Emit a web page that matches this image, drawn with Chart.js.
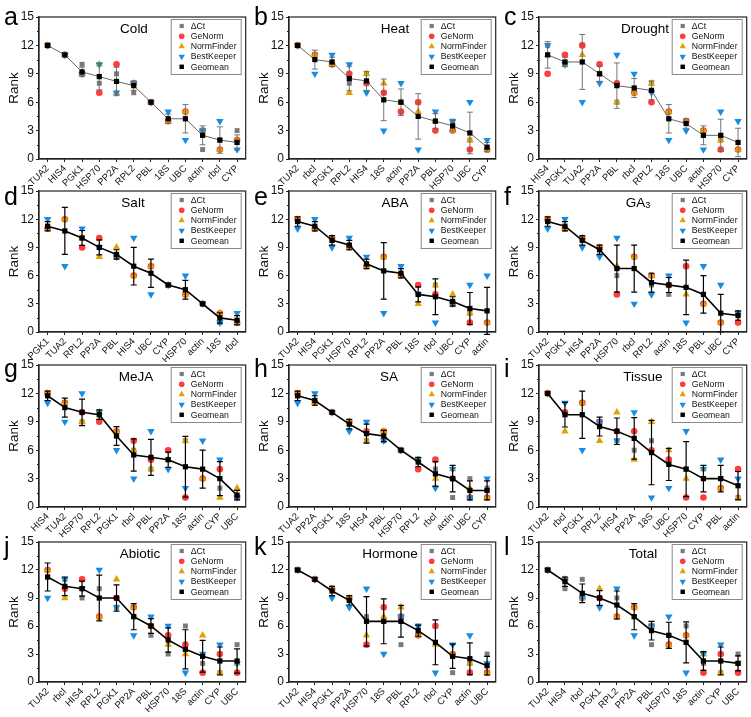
<!DOCTYPE html>
<html>
<head>
<meta charset="utf-8">
<script src="https://cdn.jsdelivr.net/npm/chart.js@4.4.1/dist/chart.umd.min.js"></script>
<style>
  body { margin: 0; background: #fff; width: 751px; height: 717px; position: relative; overflow: hidden; }
  canvas { position: absolute; }
</style>
</head>
<body>
<script>
// ranks, one block per panel
const coldGenes = ['TUA2', 'HIS4', 'PGK1', 'HSP70', 'PP2A', 'RPL2', 'PBL', '18S', 'UBC', 'actin', 'rbcl', 'CYP']
const coldDct = [12, 11, 10, 8, 9, 7, 6, 4, 5, 1, 2, 3]
const coldGeNorm = [12, 11, 9, 7, 10, 8, 6, 4, 5, 3, 1, 2]
const coldNormFinder = [12, 11, 9, 10, 7, 8, 6, 4, 5, 3, 1, 2]
const coldBestKeeper = [12, 11, 9, 10, 7, 8, 6, 5, 2, 3, 4, 1]
const coldGeomean = [12, 11, 9.2, 8.7, 8.2, 7.75, 6, 4.25, 4.25, 2.5, 2, 1.75]
const coldSd = [0, 0, 0.5, 1.4, 1.5, 0.5, 0, 0.5, 1.5, 1, 1.4, 0.8]

const heatGenes = ['TUA2', 'rbcl', 'PGK1', 'RPL2', 'HIS4', '18S', 'actin', 'PP2A', 'PBL', 'HSP70', 'UBC', 'CYP']
const heatDct = [12, 11, 10, 8, 9, 7, 6, 6, 4, 4, 2, 1]
const heatGeNorm = [12, 11, 10, 9, 8, 7, 5, 6, 3, 3, 1, 1]
const heatNormFinder = [12, 11, 10, 7, 9, 8, 6, 5, 4, 3, 2, 1]
const heatBestKeeper = [12, 9, 11, 10, 7, 3, 8, 1, 5, 4, 6, 2]
const heatGeomean = [12, 10.5, 10.25, 8.5, 8.25, 6.25, 6, 4.5, 4, 3.5, 2.75, 1.25]
const heatSd = [0, 1, 0.5, 1.3, 1, 2.2, 1.4, 2.4, 0.8, 0.55, 2.2, 0.5]

const droughtGenes = ['HIS4', 'PGK1', 'TUA2', 'PP2A', 'PBL', 'rbcl', 'RPL2', '18S', 'UBC', 'actin', 'HSP70', 'CYP']
const droughtDct = [12, 10, 12, 9, 6, 7, 8, 5, 4, 3, 2, 1]
const droughtGeNorm = [9, 11, 12, 10, 8, 7, 6, 5, 4, 3, 1, 1]
const droughtNormFinder = [11, 10, 11, 9, 6, 7, 8, 5, 4, 3, 2, 1]
const droughtBestKeeper = [12, 10, 6, 8, 11, 9, 7, 2, 3, 1, 5, 4]
const droughtGeomean = [11, 10.25, 10.25, 9, 7.75, 7.5, 7.25, 4.25, 3.75, 2.5, 2.5, 1.75]
const droughtSd = [1.4, 0.5, 2.9, 0.8, 2.4, 1, 1, 1.5, 0.5, 1, 1.7, 1.5]

const saltGenes = ['PGK1', 'TUA2', 'RPL2', 'PP2A', 'PBL', 'HIS4', 'UBC', 'CYP', 'HSP70', 'actin', '18S', 'rbcl']
const saltDct = [11, 12, 10, 9, 8, 6, 7, 5, 4, 3, 1, 1]
const saltGeNorm = [11, 12, 9, 10, 8, 6, 7, 5, 4, 3, 2, 1]
const saltNormFinder = [11, 12, 10, 8, 9, 6, 7, 5, 4, 3, 2, 1]
const saltBestKeeper = [12, 7, 11, 9, 8, 10, 4, 5, 6, 3, 1, 2]
const saltGeomean = [11.25, 10.75, 10, 9, 8.25, 7, 6.25, 5, 4.5, 3, 1.5, 1.25]
const saltSd = [0.5, 2.5, 0.8, 0.8, 0.5, 2, 1.5, 0, 1, 0, 0.55, 0.5]

const abaGenes = ['TUA2', 'HIS4', 'PGK1', 'HSP70', 'RPL2', 'PP2A', 'PBL', '18S', 'rbcl', 'UBC', 'CYP', 'actin']
const abaDct = [12, 11, 10, 9, 7, 8, 6, 4, 5, 3, 2, 1]
const abaGeNorm = [12, 11, 10, 9, 7, 8, 6, 5, 4, 3, 1, 1]
const abaNormFinder = [12, 11, 10, 9, 7, 8, 6, 3, 5, 4, 2, 1]
const abaBestKeeper = [11, 12, 9, 10, 8, 2, 7, 4, 1, 3, 5, 6]
const abaGeomean = [11.75, 11.25, 9.75, 9.25, 7.25, 6.5, 6.25, 4, 3.75, 3.25, 2.5, 2.25]
const abaSd = [0.5, 0.5, 0.5, 0.5, 0.5, 3, 0.5, 0.8, 1.9, 0.5, 1.7, 2.5]

const ga3Genes = ['TUA2', 'PGK1', 'HIS4', 'PP2A', 'HSP70', 'rbcl', 'RPL2', 'actin', '18S', 'PBL', 'UBC', 'CYP']
const ga3Dct = [12, 11, 10, 9, 6, 8, 5, 4, 7, 3, 1, 2]
const ga3GeNorm = [12, 11, 10, 9, 4, 8, 6, 5, 7, 3, 1, 1]
const ga3NormFinder = [12, 11, 10, 9, 7, 8, 6, 5, 4, 3, 1, 2]
const ga3BestKeeper = [11, 12, 9, 8, 10, 3, 4, 6, 1, 7, 5, 2]
const ga3Geomean = [11.75, 11.25, 9.75, 8.75, 6.75, 6.75, 5.25, 5, 4.75, 4, 2, 1.75]
const ga3Sd = [0.5, 0.5, 0.5, 0.5, 2.5, 2.5, 1, 0.8, 2.9, 2, 2, 0.5]

const mejaGenes = ['HIS4', 'TUA2', 'HSP70', 'RPL2', 'PGK1', 'rbcl', 'PBL', 'PP2A', '18S', 'actin', 'CYP', 'UBC']
const mejaDct = [12, 11, 9, 10, 8, 6, 4, 5, 7, 3, 2, 1]
const mejaGeNorm = [12, 11, 10, 9, 8, 7, 5, 6, 1, 3, 4, 1]
const mejaNormFinder = [12, 11, 9, 10, 8, 6, 4, 5, 7, 3, 1, 2]
const mejaBestKeeper = [11, 9, 12, 10, 6, 3, 8, 4, 2, 7, 5, 1]
const mejaGeomean = [11.75, 10.5, 10, 9.75, 7.5, 5.5, 5.25, 5, 4.25, 4, 3, 1.25]
const mejaSd = [0.5, 1, 1.4, 0.5, 1, 1.7, 1.9, 0.8, 3.2, 2, 1.8, 0.5]

const saGenes = ['TUA2', 'PP2A', 'PGK1', '18S', 'HIS4', 'PBL', 'HSP70', 'RPL2', 'rbcl', 'actin', 'UBC', 'CYP']
const saDct = [12, 11, 10, 9, 7, 7, 6, 5, 4, 1, 3, 2]
const saGeNorm = [12, 11, 10, 9, 8, 8, 6, 4, 5, 3, 1, 1]
const saNormFinder = [12, 11, 10, 9, 7, 8, 6, 5, 3, 4, 2, 1]
const saBestKeeper = [11, 12, 10, 8, 9, 7, 6, 5, 2, 4, 1, 3]
const saGeomean = [11.75, 11.25, 10, 8.75, 7.75, 7.5, 6, 4.75, 3.5, 3, 1.75, 1.75]
const saSd = [0.5, 0.5, 0, 0.5, 1, 0.6, 0, 0.5, 1.3, 1.4, 1, 1]

const tissueGenes = ['TUA2', 'rbcl', 'PGK1', 'RPL2', 'HIS4', 'PP2A', '18S', 'UBC', 'HSP70', 'CYP', 'PBL', 'actin']
const tissueDct = [12, 10, 11, 9, 7, 6, 7, 5, 4, 3, 3, 1]
const tissueGeNorm = [12, 10, 11, 9, 8, 8, 6, 5, 1, 1, 2, 4]
const tissueNormFinder = [12, 8, 11, 7, 10, 5, 9, 6, 3, 4, 2, 1]
const tissueBestKeeper = [12, 11, 6, 9, 7, 10, 1, 2, 8, 4, 5, 3]
const tissueGeomean = [12, 9.75, 9.75, 8.5, 8, 7.25, 5.75, 4.5, 4, 3, 3, 2.25]
const tissueSd = [0, 1.3, 2.5, 1, 1.4, 2.2, 3.4, 1.7, 2.9, 1.4, 1.4, 1.5]

const abioticGenes = ['TUA2', 'rbcl', 'HIS4', 'RPL2', 'PGK1', 'PP2A', 'PBL', 'HSP70', '18S', 'actin', 'CYP', 'UBC']
const abioticDct = [12, 11, 9, 10, 8, 7, 5, 3, 6, 2, 1, 4]
const abioticGeNorm = [12, 10, 11, 7, 9, 8, 6, 5, 4, 1, 3, 1]
const abioticNormFinder = [12, 9, 10, 7, 11, 8, 6, 4, 3, 5, 1, 2]
const abioticBestKeeper = [9, 11, 10, 12, 8, 5, 7, 6, 1, 3, 4, 2]
const abioticGeomean = [11.25, 10.25, 10, 9, 9, 7, 6, 4.5, 3.5, 2.75, 2.25, 2.25]
const abioticSd = [1.5, 1, 0.8, 2.45, 1.4, 1.4, 0.8, 1.3, 2.1, 1.7, 1.5, 1.3]

const hormoneGenes = ['TUA2', 'HIS4', 'PGK1', 'PP2A', 'HSP70', '18S', 'PBL', 'RPL2', 'rbcl', 'CYP', 'actin', 'UBC']
const hormoneDct = [12, 11, 10, 9, 7, 8, 4, 6, 6, 1, 2, 3]
const hormoneGeNorm = [12, 11, 10, 9, 4, 8, 7, 5, 6, 3, 1, 1]
const hormoneNormFinder = [12, 11, 10, 9, 5, 7, 8, 5, 4, 3, 2, 1]
const hormoneBestKeeper = [12, 11, 9, 8, 10, 3, 7, 6, 1, 4, 5, 2]
const hormoneGeomean = [12, 11, 9.75, 8.75, 6.5, 6.5, 6.5, 5.5, 4.25, 2.75, 2.5, 1.75]
const hormoneSd = [0, 0, 0.5, 0.5, 2.65, 2.4, 1.7, 0.6, 2.4, 1.3, 1.7, 1]

const totalGenes = ['TUA2', 'HIS4', 'rbcl', 'PGK1', 'RPL2', 'PP2A', 'PBL', 'HSP70', '18S', 'actin', 'CYP', 'UBC']
const totalDct = [12, 10, 11, 9, 9, 7, 4, 5, 6, 2, 1, 3]
const totalGeNorm = [12, 11, 9, 9, 7, 8, 6, 4, 5, 1, 3, 1]
const totalNormFinder = [12, 11, 9, 10, 7, 8, 6, 4, 5, 3, 1, 2]
const totalBestKeeper = [12, 11, 9, 8, 10, 5, 6, 7, 1, 3, 4, 2]
const totalGeomean = [12, 10.75, 9.5, 9, 8.25, 7, 5.5, 5, 4.25, 2.25, 2.25, 2]
const totalSd = [0, 0.5, 1, 0.8, 1.5, 1.4, 1, 1.4, 2.2, 1, 1.5, 0.8]

const rankTicks = [0, 3, 6, 9, 12, 15]
const methodNames = ['ΔCt', 'GeNorm', 'NormFinder', 'BestKeeper', 'Geomean']

const panels = [
  {letter: 'a', title: 'Cold', genes: coldGenes, series: [coldDct, coldGeNorm, coldNormFinder, coldBestKeeper], geo: coldGeomean, sd: coldSd, titleX: 134, light: true},
  {letter: 'b', title: 'Heat', genes: heatGenes, series: [heatDct, heatGeNorm, heatNormFinder, heatBestKeeper], geo: heatGeomean, sd: heatSd, titleX: 145, light: true},
  {letter: 'c', title: 'Drought', genes: droughtGenes, series: [droughtDct, droughtGeNorm, droughtNormFinder, droughtBestKeeper], geo: droughtGeomean, sd: droughtSd, titleX: 145, light: true},
  {letter: 'd', title: 'Salt', genes: saltGenes, series: [saltDct, saltGeNorm, saltNormFinder, saltBestKeeper], geo: saltGeomean, sd: saltSd, titleX: 133},
  {letter: 'e', title: 'ABA', genes: abaGenes, series: [abaDct, abaGeNorm, abaNormFinder, abaBestKeeper], geo: abaGeomean, sd: abaSd, titleX: 145},
  {letter: 'f', title: 'GA', sub: '3', genes: ga3Genes, series: [ga3Dct, ga3GeNorm, ga3NormFinder, ga3BestKeeper], geo: ga3Geomean, sd: ga3Sd, titleX: 138},
  {letter: 'g', title: 'MeJA', genes: mejaGenes, series: [mejaDct, mejaGeNorm, mejaNormFinder, mejaBestKeeper], geo: mejaGeomean, sd: mejaSd, titleX: 136},
  {letter: 'h', title: 'SA', genes: saGenes, series: [saDct, saGeNorm, saNormFinder, saBestKeeper], geo: saGeomean, sd: saSd, titleX: 139},
  {letter: 'i', title: 'Tissue', genes: tissueGenes, series: [tissueDct, tissueGeNorm, tissueNormFinder, tissueBestKeeper], geo: tissueGeomean, sd: tissueSd, titleX: 143},
  {letter: 'j', title: 'Abiotic', genes: abioticGenes, series: [abioticDct, abioticGeNorm, abioticNormFinder, abioticBestKeeper], geo: abioticGeomean, sd: abioticSd, titleX: 140},
  {letter: 'k', title: 'Hormone', genes: hormoneGenes, series: [hormoneDct, hormoneGeNorm, hormoneNormFinder, hormoneBestKeeper], geo: hormoneGeomean, sd: hormoneSd, titleX: 140},
  {letter: 'l', title: 'Total', genes: totalGenes, series: [totalDct, totalGeNorm, totalNormFinder, totalBestKeeper], geo: totalGeomean, sd: totalSd, titleX: 143},
]

// page geometry (px)
const rowTop = [17, 191, 365, 542]
const rowBottom = [159, 332, 507, 682]
const letterBase = [25, 205, 377, 555]
const PAD_TOP = 17
const X_AXIS_H = 30

const FONT = '"Liberation Sans", Arial, sans-serif'
const markers = [
  {color: '#7a7a7a', style: 'rect', r: 3.5, rot: 0},
  {color: '#ff3b3b', style: 'circle', r: 3.3, rot: 0},
  {color: '#e0a300', style: 'triangle', r: 4.3, rot: 0},
  {color: '#168de3', style: 'triangle', r: 4.3, rot: 180},
  {color: '#000000', style: 'rect', r: 3.7, rot: 0},
]

Chart.defaults.font.family = FONT
Chart.defaults.color = '#111'

const decor = {
  id: 'decor',
  // error bars go on after BestKeeper and before the Geomean markers
  afterDatasetDraw(chart, args, o) {
    if (args.index !== 3) return
    const ctx = chart.ctx
    const y = chart.scales.y
    const pts = chart.getDatasetMeta(4).data
    ctx.save()
    ctx.strokeStyle = o.light ? '#666' : '#000'
    ctx.lineWidth = o.light ? 0.9 : 1.2
    pts.forEach((pt, i) => {
      const e = o.sd[i]
      if (!e) return
      const t = y.getPixelForValue(o.geo[i] + e)
      const b = y.getPixelForValue(o.geo[i] - e)
      ctx.beginPath()
      ctx.moveTo(pt.x, t); ctx.lineTo(pt.x, b)
      ctx.moveTo(pt.x - 3, t); ctx.lineTo(pt.x + 3, t)
      ctx.moveTo(pt.x - 3, b); ctx.lineTo(pt.x + 3, b)
      ctx.stroke()
    })
    ctx.restore()
  },
  afterDraw(chart, args, o) {
    const ctx = chart.ctx
    const a = chart.chartArea
    const y = chart.scales.y
    ctx.save()
    // box frame
    ctx.strokeStyle = '#222'
    ctx.lineWidth = 1.2
    ctx.strokeRect(a.left, a.top, a.right - a.left, a.bottom - a.top)
    // minor y ticks
    ctx.beginPath()
    for (let v = 1.5; v < 15; v += 3) {
      const py = Math.round(y.getPixelForValue(v)) + 0.5
      ctx.moveTo(a.left - 2, py); ctx.lineTo(a.left, py)
    }
    ctx.lineWidth = 1
    ctx.stroke()

    // panel letter
    ctx.fillStyle = '#000'
    ctx.textBaseline = 'alphabetic'
    ctx.textAlign = 'left'
    ctx.font = '25px ' + FONT
    ctx.fillText(o.letter, 4, o.letterY)

    // title
    ctx.font = '13.5px ' + FONT
    ctx.textBaseline = 'middle'
    if (o.sub) {
      const w1 = ctx.measureText(o.title).width
      ctx.font = '9px ' + FONT
      const w2 = ctx.measureText(o.sub).width
      const x0 = o.titleX - (w1 + w2) / 2
      ctx.font = '13.5px ' + FONT
      ctx.fillText(o.title, x0, a.top + 12)
      ctx.font = '9px ' + FONT
      ctx.fillText(o.sub, x0 + w1, a.top + 15)
    } else {
      ctx.textAlign = 'center'
      ctx.fillText(o.title, o.titleX, a.top + 12)
    }

    // legend box
    const bx = a.right - 75, by = a.top + 2, bw = 70, bh = 55
    ctx.strokeStyle = '#8a8a8a'
    ctx.lineWidth = 1
    ctx.strokeRect(bx + 0.5, by + 0.5, bw, bh)
    ctx.font = '8.7px ' + FONT
    ctx.textAlign = 'left'
    ctx.textBaseline = 'middle'
    methodNames.forEach((name, i) => {
      const m = markers[i]
      const cy = by + 7 + i * 10.2
      ctx.fillStyle = m.color
      Chart.helpers.drawPoint(ctx, {pointStyle: m.style, radius: m.r * 0.85, rotation: m.rot, borderWidth: 0}, bx + 11, cy)
      ctx.fillStyle = '#111'
      ctx.fillText(name, bx + 20, cy + 0.5)
    })
    ctx.restore()
  },
}

panels.forEach((p, k) => {
  const col = k % 3
  const row = Math.floor(k / 3)
  const canvas = document.createElement('canvas')
  const top = rowTop[row] - PAD_TOP
  const w = col === 2 ? 251 : 250
  const h = rowBottom[row] - rowTop[row] + PAD_TOP + X_AXIS_H
  canvas.width = w
  canvas.height = h
  canvas.style.left = (col * 250) + 'px'
  canvas.style.top = top + 'px'
  document.body.appendChild(canvas)

  const datasets = p.series.map((vals, i) => ({
    label: methodNames[i],
    data: vals,
    showLine: false,
    pointStyle: markers[i].style,
    pointRadius: markers[i].r,
    pointRotation: markers[i].rot,
    pointBackgroundColor: markers[i].color,
    pointBorderColor: markers[i].color,
    pointBorderWidth: 0,
    order: 4 - i,
    clip: false,
  }))
  datasets.push({
    label: methodNames[4],
    data: p.geo,
    showLine: true,
    tension: 0,
    borderColor: p.light ? '#666' : '#000',
    borderWidth: p.light ? 1 : 1.6,
    pointStyle: 'rect',
    pointRadius: markers[4].r,
    pointBackgroundColor: '#000',
    pointBorderColor: '#000',
    pointBorderWidth: 0,
    order: 0,
    clip: false,
  })

  new Chart(canvas, {
    type: 'line',
    data: {labels: p.genes, datasets},
    options: {
      responsive: false,
      animation: false,
      events: [],
      layout: {padding: {top: PAD_TOP, right: 3, left: 0, bottom: 0}},
      plugins: {
        legend: {display: false},
        tooltip: {enabled: false},
        decor: {letter: p.letter, letterY: letterBase[row] - top, title: p.title, sub: p.sub, titleX: p.titleX, geo: p.geo, sd: p.sd, light: p.light},
      },
      scales: {
        x: {
          offset: true,
          grid: {drawOnChartArea: false, tickLength: 3, color: '#222'},
          border: {color: '#222', width: 1.2},
          ticks: {autoSkip: false, minRotation: 45, maxRotation: 45, padding: 1, font: {size: 9.5}, color: '#111'},
          afterFit(s) { s.height = X_AXIS_H },
        },
        y: {
          min: 0,
          max: 15,
          afterBuildTicks(s) { s.ticks = rankTicks.map(v => ({value: v})) },
          grid: {drawOnChartArea: false, tickLength: 3, color: '#222'},
          border: {color: '#222', width: 1.2},
          ticks: {padding: 2, font: {size: 12}, color: '#111'},
          title: {display: true, text: 'Rank', font: {size: 13.5}, padding: {top: 6, bottom: 0}, color: '#111'},
          afterFit(s) { s.width = 39 },
        },
      },
    },
    plugins: [decor],
  })
})
</script>
</body>
</html>
